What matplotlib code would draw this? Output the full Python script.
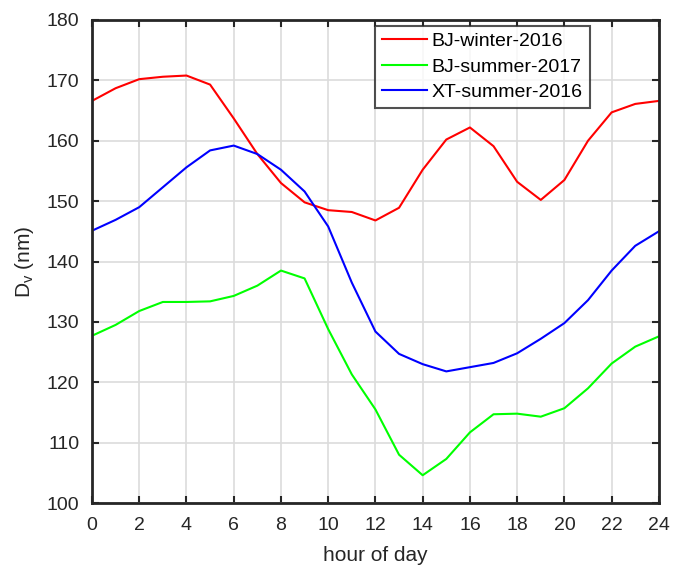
import numpy as np
import matplotlib.pyplot as plt

# hours 0..24
hours = list(range(25))

bj_winter_2016 = [166.6, 168.7, 170.2, 170.6, 170.8, 169.3, 163.7, 157.8, 153.0, 149.8,
                  148.5, 148.2, 146.8, 148.9, 155.2, 160.2, 162.2, 159.1, 153.2, 150.2,
                  153.5, 160.0, 164.7, 166.1, 166.6]
bj_summer_2017 = [127.7, 129.5, 131.8, 133.3, 133.3, 133.4, 134.3, 136.0, 138.5, 137.2,
                  128.8, 121.3, 115.5, 108.0, 104.6, 107.3, 111.7, 114.7, 114.8, 114.3,
                  115.7, 119.0, 123.1, 125.9, 127.6]
xt_summer_2016 = [145.1, 146.9, 149.0, 152.3, 155.6, 158.4, 159.2, 157.8, 155.2, 151.6,
                  145.8, 136.5, 128.4, 124.7, 123.0, 121.8, 122.5, 123.2, 124.8, 127.2,
                  129.8, 133.6, 138.5, 142.6, 145.0]

plt.rcParams['font.family'] = ['Liberation Sans', 'DejaVu Sans']
plt.rcParams['mathtext.fontset'] = 'custom'
plt.rcParams['mathtext.rm'] = 'Liberation Sans'

fig = plt.figure(figsize=(6.73, 5.68), dpi=100)
ax = fig.add_axes([0.1367, 0.1144, 0.8423, 0.8504])

ax.plot(hours, bj_winter_2016, color='#ff0000', linewidth=1.5, label='BJ-winter-2016')
ax.plot(hours, bj_summer_2017, color='#00ff00', linewidth=1.5, label='BJ-summer-2017')
ax.plot(hours, xt_summer_2016, color='#0000ff', linewidth=1.5, label='XT-summer-2016')

ax.set_xlim(0, 24)
ax.set_ylim(100, 180)
ax.set_xticks(range(0, 25, 2))
ax.set_yticks(range(100, 181, 10))
ax.grid(True, color='#dcdcdc', linewidth=1.2)
ax.set_axisbelow(True)

ax.tick_params(direction='in', top=True, right=True, length=5, width=1.5,
               color='#262626', labelcolor='#262626', labelsize=14)
ax.tick_params(axis='x', pad=10)
ax.tick_params(axis='y', pad=9)
for s in ax.spines.values():
    s.set_linewidth(2)
    s.set_color('#262626')

ax.set_xlabel('hour of day', fontsize=15, color='#262626', labelpad=9)
ax.set_ylabel(r'D$_\mathregular{v}$ (nm)', fontsize=15, color='#262626', labelpad=8)

leg = ax.legend(loc='upper left', bbox_to_anchor=(0.5, 0.988), fontsize=14,
                frameon=True, fancybox=False, edgecolor='#262626',
                handlelength=2.3, borderpad=0.35, labelspacing=0.4, handletextpad=0.25,
                borderaxespad=0)
leg.get_frame().set_linewidth(1.5)

fig.savefig('out.png', dpi=100)
